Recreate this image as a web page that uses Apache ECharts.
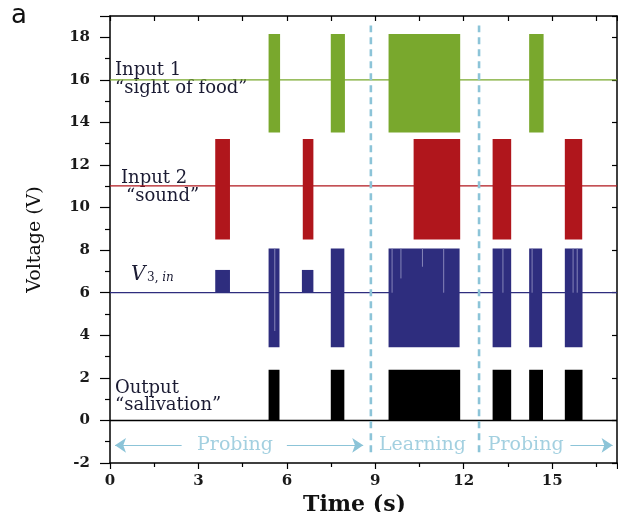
<!DOCTYPE html>
<html>
<head>
<meta charset="utf-8">
<script src="https://cdn.jsdelivr.net/npm/echarts@6/dist/echarts.min.js"></script>
<style>
html,body{margin:0;padding:0;background:#fff;}
#chart{width:618px;height:512px;}
</style>
</head>
<body>
<div id="chart"></div>
<script>
// ---- axis ranges / ticks ----
const xRange = [0, 17.2];
const yRange = [-2, 19];
const xTickInterval = 3;
const yTickInterval = 2;

// ---- channel levels: [baseline, low, high] ----
const input1Levels = [16, 13.53, 18.16];
const input2Levels = [11.02, 8.5, 13.22];
const v3Levels = [6, 3.44, 8.08];
const outputLevels = [0, 0, 2.38];
const v3SmallPulseHigh = 7.07;

// ---- burst intervals [start, end] in seconds ----
const input1Bursts = [[5.38, 5.77], [7.49, 7.97], [9.45, 11.88], [14.22, 14.71]];
const input2Bursts = [[3.57, 4.07], [6.54, 6.90], [10.30, 11.88], [12.98, 13.61], [15.43, 16.02]];
const v3Bursts = [[5.38, 5.75], [7.49, 7.95], [9.45, 11.86], [12.98, 13.61], [14.22, 14.66], [15.43, 16.03]];
const v3SmallPulses = [[3.57, 4.07], [6.51, 6.90]];
const outputBursts = [[5.38, 5.75], [7.49, 7.95], [9.45, 11.88], [12.98, 13.61], [14.22, 14.69], [15.43, 16.03]];
// light gaps inside V3 bursts: [x, from, to]
const v3Gaps = [[5.59, 4.2, 8.08], [9.57, 6.0, 8.08], [9.87, 6.67, 8.08], [10.60, 7.22, 8.08],
                [11.32, 6.0, 8.08], [13.33, 6.0, 8.08], [14.32, 6.0, 8.08], [15.71, 6.0, 8.08], [15.85, 6.0, 8.08]];

// ---- phase markers ----
const phaseBoundaries = [8.85, 12.52];
const phaseLineSpan = [-1.5, 18.55];
const phaseNames = ['Probing', 'Learning', 'Probing'];
const phaseNameX = [4.24, 10.6, 14.1];
const phaseY = -1.17;
const phaseArrows = [[2.43, 0.17], [6.0, 8.59], [15.62, 17.05]]; // [from, to], arrowhead at "to"

const C_GREEN = '#79a82d';
const C_RED = '#b0161c';
const C_BLUE = '#2e2d7e';
const C_BLACK = '#000000';
const C_PHASE = '#8cc4d8';
const SERIF = '"DejaVu Serif", "Liberation Serif", serif';

function rectSeries(name, bursts, low, high, color) {
  return {
    name: name, type: 'custom', z: 3, silent: true,
    data: bursts.map(b => [b[0], b[1], low, high]),
    renderItem: function (params, api) {
      const p0 = api.coord([api.value(0), api.value(3)]);
      const p1 = api.coord([api.value(1), api.value(2)]);
      return { type: 'rect', shape: { x: p0[0], y: p0[1], width: p1[0] - p0[0], height: p1[1] - p0[1] },
               style: { fill: color } };
    }
  };
}
function baseSeries(name, level, color, width) {
  return { name: name, type: 'line', z: 2, silent: true, symbol: 'none',
           data: [[xRange[0], level], [xRange[1], level]],
           lineStyle: { color: color, width: width } };
}

const series = [
  baseSeries('Input 1 base', input1Levels[0], C_GREEN, 1.3),
  rectSeries('Input 1', input1Bursts, input1Levels[1], input1Levels[2], C_GREEN),
  baseSeries('Input 2 base', input2Levels[0], C_RED, 1.3),
  rectSeries('Input 2', input2Bursts, input2Levels[1], input2Levels[2], C_RED),
  baseSeries('V3 base', v3Levels[0], C_BLUE, 1.3),
  rectSeries('V3', v3Bursts, v3Levels[1], v3Levels[2], C_BLUE),
  rectSeries('V3 small', v3SmallPulses, v3Levels[0], v3SmallPulseHigh, C_BLUE),
  {
    name: 'V3 gaps', type: 'custom', z: 4, silent: true,
    data: v3Gaps,
    renderItem: function (params, api) {
      const a = api.coord([api.value(0), api.value(1)]);
      const b = api.coord([api.value(0), api.value(2)]);
      return { type: 'line', shape: { x1: a[0], y1: a[1], x2: b[0], y2: b[1] },
               style: { stroke: '#8584b8', lineWidth: 1 } };
    }
  },
  baseSeries('Output base', outputLevels[0], C_BLACK, 1.5),
  rectSeries('Output', outputBursts, outputLevels[1], outputLevels[2], C_BLACK)
];

phaseBoundaries.forEach(function (x, i) {
  series.push({ name: 'boundary' + i, type: 'line', z: 5, silent: true, symbol: 'none',
    data: [[x, phaseLineSpan[0]], [x, phaseLineSpan[1]]],
    lineStyle: { color: C_PHASE, width: 2.6, type: [7, 5] } });
});

series.push({
  name: 'phase arrows', type: 'lines', coordinateSystem: 'cartesian2d', z: 5, silent: true,
  symbol: ['none', 'arrow'], symbolSize: [6, 11],
  lineStyle: { color: C_PHASE, width: 1.2, opacity: 1 },
  data: phaseArrows.map(a => ({ coords: [[a[0], phaseY], [a[1], phaseY]] }))
});
series.push({
  name: 'phase names', type: 'scatter', z: 5, silent: true, symbolSize: 0,
  data: phaseNames.map((n, i) => ({ name: n, value: [phaseNameX[i], phaseY] })),
  label: { show: true, position: 'inside', formatter: '{b}', color: C_PHASE,
           fontFamily: SERIF, fontSize: 19 }
});

const annFont = '18px ' + SERIF;
const annColor = '#1b1b33';
const graphics = [
  { type: 'text', left: 11, top: 3, style: { text: 'a', font: '26px "DejaVu Sans", sans-serif', fill: '#111' } },
  { type: 'text', left: 115, top: 61, style: { text: 'Input 1', font: annFont, fill: annColor } },
  { type: 'text', left: 115, top: 79, style: { text: '\u201Csight of food\u201D', font: annFont, fill: annColor } },
  { type: 'text', left: 121, top: 169, style: { text: 'Input 2', font: annFont, fill: annColor } },
  { type: 'text', left: 126, top: 187, style: { text: '\u201Csound\u201D', font: annFont, fill: annColor } },
  { type: 'text', left: 131, top: 265, style: { text: 'V', font: 'italic 20px ' + SERIF, fill: annColor } },
  { type: 'text', left: 147, top: 272, style: { text: '{a|3, }{b|in}', fill: annColor,
      rich: { a: { font: '12px ' + SERIF, fill: annColor }, b: { font: 'italic 12px ' + SERIF, fill: annColor } } } },
  { type: 'text', left: 115, top: 379, style: { text: 'Output', font: annFont, fill: annColor } },
  { type: 'text', left: 115, top: 396, style: { text: '\u201Csalivation\u201D', font: annFont, fill: annColor } }
];

const chart = echarts.init(document.getElementById('chart'), null, { renderer: 'canvas' });
chart.setOption({
  animation: false,
  backgroundColor: '#ffffff',
  grid: { left: 110, right: 1, top: 16, bottom: 49, containLabel: false, outerBoundsMode: 'none' },
  xAxis: [
    { type: 'value', position: 'bottom', min: xRange[0], max: xRange[1], interval: xTickInterval,
      name: 'Time (s)', nameLocation: 'middle', nameGap: 23,
      nameTextStyle: { fontFamily: SERIF, fontSize: 22, fontWeight: 'bold', color: '#111', padding: [0, 18, 0, 0] },
      axisLine: { onZero: false, lineStyle: { color: '#000', width: 1.5 } },
      axisTick: { inside: false, length: 6, lineStyle: { color: '#000', width: 1.2 } },
      minorTick: { show: true, splitNumber: 2, length: 4, lineStyle: { color: '#000', width: 1.2 } },
      splitLine: { show: false },
      axisLabel: { fontFamily: SERIF, fontSize: 15, fontWeight: 'bold', color: '#1a1a1a', margin: 11,
                   showMinLabel: true, showMaxLabel: false,
                   formatter: v => (v % 3 === 0 && v < 17 ? String(v) : '') } },
    { type: 'value', position: 'top', min: xRange[0], max: xRange[1], interval: 1.5,
      axisLine: { onZero: false, lineStyle: { color: '#000', width: 1.5 } },
      axisTick: { inside: true, length: 5, lineStyle: { color: '#000', width: 1.2 } },
      splitLine: { show: false }, axisLabel: { show: false } }
  ],
  yAxis: [
    { type: 'value', position: 'left', min: yRange[0], max: yRange[1], interval: yTickInterval,
      name: 'Voltage (V)', nameLocation: 'middle', nameGap: 65,
      nameTextStyle: { fontFamily: SERIF, fontSize: 19, color: '#111' },
      axisLine: { onZero: false, lineStyle: { color: '#000', width: 1.5 } },
      axisTick: { inside: false, length: 10, lineStyle: { color: '#000', width: 1.2 } },
      minorTick: { show: true, splitNumber: 2, length: 5, lineStyle: { color: '#000', width: 1.2 } },
      splitLine: { show: false },
      axisLabel: { fontFamily: SERIF, fontSize: 15, fontWeight: 'bold', color: '#1a1a1a', margin: 20,
                   showMaxLabel: false,
                   formatter: v => (v % 2 === 0 && v <= 18 ? String(v) : '') } },
    { type: 'value', position: 'right', min: yRange[0], max: yRange[1], interval: yTickInterval,
      axisLine: { onZero: false, lineStyle: { color: '#000', width: 1.5 } },
      axisTick: { inside: true, length: 5, lineStyle: { color: '#000', width: 1.2 } },
      splitLine: { show: false }, axisLabel: { show: false } }
  ],
  graphic: graphics,
  series: series
});
</script>
</body>
</html>
